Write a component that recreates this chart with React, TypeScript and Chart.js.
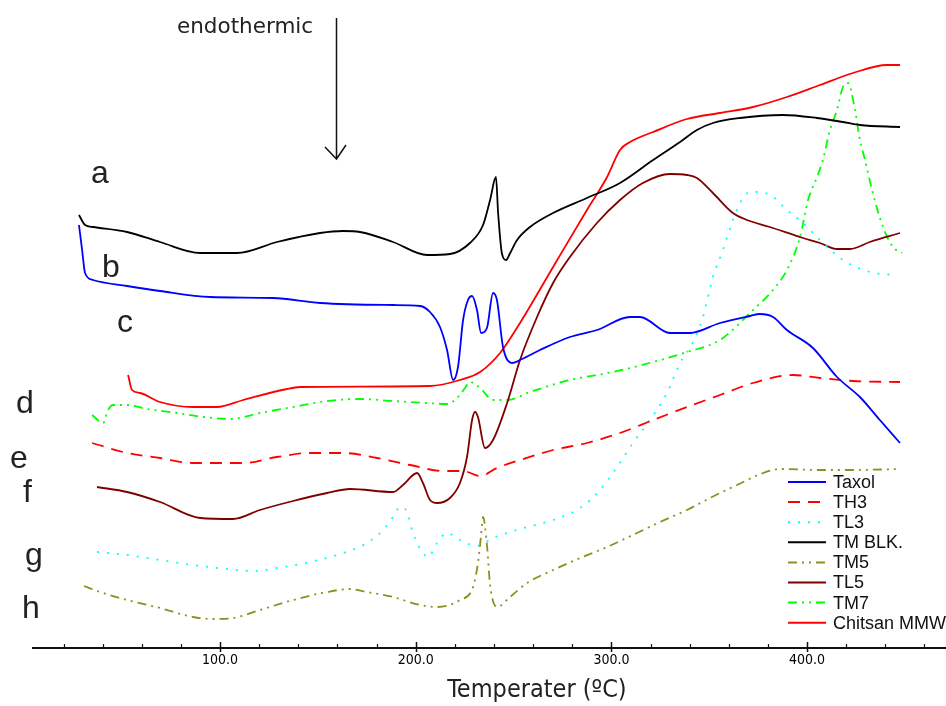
import React, { useEffect, useRef } from "react";
import { Chart, registerables } from "chart.js";

Chart.register(...registerables);

// Temperature (°C) and heat-flow (arbitrary units, curves offset)
const taxolT = [27.9, 29.5, 31.0, 35.1, 52.5, 69.3, 94.9, 127.1, 151.1, 188.4, 202.2, 207.3, 212.4, 216.0, 219.1, 221.6, 224.2, 226.7, 228.8, 231.3, 233.4, 236.4, 239.5, 241.5, 244.6, 249.2, 254.3, 263.5, 278.8, 292.6, 309.5, 314.6, 329.9, 340.2, 355.5, 370.8, 375.9, 382.6, 389.7, 403.0, 415.3, 427.0, 437.2, 447.5];
const taxolV = [42.3, 39.8, 37.5, 36.8, 36.2, 35.7, 35.1, 35.0, 34.5, 34.3, 34.2, 33.6, 32.1, 29.8, 26.8, 28.1, 32.8, 34.8, 35.2, 33.8, 31.5, 32.0, 35.5, 34.8, 30.1, 28.5, 28.9, 29.8, 31.1, 31.8, 33.1, 33.1, 31.5, 31.5, 32.5, 33.2, 33.4, 33.1, 31.8, 30.0, 27.1, 25.1, 22.8, 20.5];

const th3T = [34.6, 52.5, 69.3, 86.2, 111.8, 129.1, 146.0, 162.9, 180.2, 197.1, 214.0, 224.2, 232.9, 241.5, 253.3, 270.2, 287.5, 304.4, 321.3, 338.6, 355.5, 372.4, 392.8, 406.6, 423.5, 447.5];
const th3V = [20.5, 19.5, 19.0, 18.5, 18.5, 19.1, 19.5, 19.5, 19.0, 18.3, 17.7, 17.7, 17.2, 18.0, 18.8, 19.8, 20.5, 21.5, 22.8, 24.1, 25.3, 26.5, 27.3, 27.0, 26.7, 26.6];

const tl3T = [37.1, 52.5, 69.3, 86.2, 103.6, 116.9, 129.1, 146.0, 162.9, 175.1, 183.3, 188.4, 192.0, 195.6, 198.6, 203.7, 206.3, 210.9, 216.0, 222.6, 231.3, 239.5, 253.3, 270.2, 284.0, 294.2, 302.9, 311.0, 319.7, 328.4, 335.1, 341.7, 346.8, 351.9, 357.0, 362.1, 365.7, 370.8, 375.9, 382.6, 389.7, 397.9, 406.6, 418.3, 432.1, 443.9];
const tl3V = [9.6, 9.3, 8.8, 8.3, 7.9, 7.7, 8.0, 8.6, 9.5, 10.5, 11.8, 13.1, 14.1, 13.6, 11.5, 9.5, 9.1, 10.5, 11.5, 10.8, 10.2, 11.0, 11.9, 12.8, 14.0, 15.8, 18.1, 20.5, 22.8, 25.5, 28.5, 30.6, 33.1, 37.1, 39.8, 42.8, 44.5, 45.6, 45.6, 45.1, 43.8, 42.5, 40.8, 38.8, 37.6, 37.3];

const tmBlkT = [27.9, 31.0, 35.1, 52.5, 69.3, 89.8, 108.7, 129.1, 151.1, 162.9, 171.5, 188.4, 205.8, 217.5, 227.7, 234.4, 238.0, 241.0, 242.1, 244.1, 246.2, 248.0, 251.8, 258.4, 270.2, 287.5, 304.4, 321.3, 335.1, 343.7, 351.9, 365.7, 387.7, 405.1, 418.3, 427.0, 447.5];
const tmBlkV = [43.3, 42.3, 42.1, 41.6, 40.6, 39.5, 39.5, 40.6, 41.5, 41.7, 41.6, 40.6, 39.3, 39.4, 40.5, 42.3, 44.8, 47.1, 43.5, 39.4, 38.8, 39.4, 40.8, 42.1, 43.5, 45.0, 46.5, 48.8, 50.6, 51.8, 52.5, 53.0, 53.3, 53.0, 52.6, 52.3, 52.1];

const tm5T = [30.5, 38.7, 52.5, 69.3, 86.2, 96.4, 106.6, 120.4, 137.3, 154.7, 166.4, 175.1, 188.4, 202.2, 210.9, 222.6, 229.3, 231.8, 233.4, 234.4, 236.4, 238.0, 241.5, 248.2, 256.9, 270.2, 284.0, 297.8, 313.1, 324.8, 338.6, 350.4, 364.2, 377.5, 386.1, 406.6, 423.5, 447.5];
const tm5V = [6.2, 5.6, 4.8, 4.0, 3.1, 2.9, 3.0, 3.8, 4.8, 5.6, 5.9, 5.6, 5.1, 4.3, 4.1, 4.8, 6.1, 8.5, 11.3, 13.1, 10.3, 6.3, 4.1, 5.1, 6.5, 7.8, 9.0, 10.1, 11.5, 12.6, 13.8, 15.0, 16.3, 17.5, 17.9, 17.8, 17.8, 17.9];

const tl5T = [37.1, 52.5, 69.3, 89.8, 106.6, 120.4, 137.3, 154.7, 166.4, 188.4, 193.5, 200.7, 203.7, 207.3, 210.9, 217.5, 222.6, 226.2, 228.8, 230.3, 231.8, 235.4, 239.5, 246.7, 253.3, 262.0, 270.2, 278.8, 292.6, 304.4, 316.1, 329.9, 338.6, 343.7, 351.9, 362.1, 369.3, 381.0, 397.9, 406.6, 415.3, 421.9, 432.1, 447.5];
const tl5V = [16.1, 15.6, 14.6, 13.0, 12.9, 13.8, 14.7, 15.5, 15.9, 15.6, 16.3, 17.5, 16.5, 14.8, 14.5, 15.0, 16.5, 19.1, 22.8, 23.6, 23.1, 20.0, 20.8, 24.5, 28.8, 33.1, 36.5, 39.1, 42.5, 44.8, 46.5, 47.4, 47.3, 47.0, 45.5, 43.5, 42.8, 42.1, 41.0, 40.5, 39.9, 39.9, 40.6, 41.5];

const tm7T = [34.6, 40.2, 42.8, 45.3, 52.5, 62.7, 78.0, 91.3, 105.1, 120.4, 137.3, 154.7, 171.5, 188.4, 205.8, 216.0, 221.1, 225.2, 227.7, 232.9, 239.5, 246.7, 258.4, 278.8, 300.8, 321.3, 338.6, 355.5, 372.4, 382.6, 389.7, 396.4, 400.5, 405.1, 408.1, 411.7, 415.3, 418.3, 420.9, 424.5, 427.0, 429.6, 433.2, 438.8, 443.9, 448.5];
const tm7V = [23.3, 22.5, 23.8, 24.3, 24.3, 23.9, 23.5, 23.1, 22.9, 23.5, 24.1, 24.7, 24.9, 24.7, 24.5, 24.4, 25.0, 26.0, 26.6, 26.0, 24.8, 24.8, 25.6, 26.8, 27.6, 28.6, 29.6, 30.8, 33.8, 35.8, 37.8, 41.1, 44.8, 47.1, 48.8, 51.8, 53.8, 56.1, 56.5, 53.8, 50.8, 48.8, 45.8, 42.1, 40.1, 39.5];

const chitsanT = [53.0, 55.0, 59.1, 69.3, 86.2, 98.5, 111.8, 134.2, 140.9, 207.3, 222.6, 232.9, 243.1, 253.3, 270.2, 287.5, 297.8, 304.4, 309.5, 321.3, 338.6, 355.5, 372.4, 389.7, 406.6, 423.5, 440.8, 447.5];
const chitsanV = [27.3, 25.8, 25.5, 24.6, 24.1, 24.1, 24.8, 25.9, 26.1, 26.2, 26.8, 27.6, 29.5, 32.5, 38.1, 43.8, 47.1, 49.8, 50.6, 51.6, 52.9, 53.5, 54.1, 55.1, 56.3, 57.5, 58.3, 58.3];

const seriesNames = ["Taxol", "TH3", "TL3", "TM BLK.", "TM5", "TL5", "TM7", "Chitsan MMW"];
const curveLetters = ["a", "b", "c", "d", "e", "f", "g", "h"];
const majorTicks = [100, 200, 300, 400];
const minorStep = 20;
const xTitle = "Temperater (ºC)";
const noteText = "endothermic";

const pts = (t: number[], v: number[]) => t.map((x, i) => ({ x, y: v[i] }));

const DASHDOTDOT = [9, 5, 2, 5, 2, 5];

const overlayPlugin = {
  id: "overlay",
  afterDraw(chart: any) {
    const ctx = chart.ctx;
    const xs = chart.scales.x;
    const axisY = chart.chartArea.bottom;
    ctx.save();
    // axis tick marks (pointing up, majors crossing the axis)
    ctx.strokeStyle = "#111";
    for (let v = minorStep; v <= xs.max; v += minorStep) {
      const px = Math.round(xs.getPixelForValue(v)) + 0.5;
      const major = majorTicks.includes(v);
      ctx.lineWidth = major ? 1.5 : 1.2;
      ctx.beginPath();
      ctx.moveTo(px, axisY - (major ? 6 : 4));
      ctx.lineTo(px, axisY + (major ? 4 : 0));
      ctx.stroke();
    }

    // curve letters
    ctx.fillStyle = "#222";
    ctx.font = "32px 'Liberation Sans', Arial, sans-serif";
    ctx.textBaseline = "alphabetic";
    ctx.textAlign = "left";
    const letterPos = [
      [91, 183], [102, 277], [117, 332], [16, 413], [10, 468], [23, 502], [25, 565], [22, 618],
    ];
    curveLetters.forEach((l, i) => ctx.fillText(l, letterPos[i][0], letterPos[i][1]));

    // endothermic note + arrow
    ctx.font = "21.5px 'DejaVu Sans', sans-serif";
    ctx.fillStyle = "#222";
    ctx.fillText(noteText, 177, 33);
    ctx.strokeStyle = "#111";
    ctx.lineWidth = 1.5;
    ctx.beginPath();
    ctx.moveTo(336.5, 18);
    ctx.lineTo(336.5, 159);
    ctx.moveTo(325, 147);
    ctx.lineTo(336.5, 159);
    ctx.lineTo(346, 145);
    ctx.stroke();

    // axis title
    ctx.font = "25px 'DejaVu Sans Condensed', 'DejaVu Sans', sans-serif";
    ctx.textAlign = "center";
    ctx.textBaseline = "middle";
    ctx.fillStyle = "#222";
    ctx.fillText(xTitle, 537, 690);

    // legend
    ctx.textAlign = "left";
    ctx.font = "18px 'Liberation Sans', Arial, sans-serif";
    chart.data.datasets.forEach((ds: any, i: number) => {
      const y = 482 + i * 20.1;
      ctx.strokeStyle = ds.borderColor;
      ctx.lineWidth = 2;
      ctx.setLineDash(ds.borderDash || []);
      ctx.beginPath();
      ctx.moveTo(788, y);
      ctx.lineTo(826, y);
      ctx.stroke();
      ctx.setLineDash([]);
      ctx.fillStyle = "#111";
      ctx.fillText(ds.label, 833, y + 1);
    });
    ctx.restore();
  },
};

export default function App() {
  const ref = useRef<HTMLCanvasElement | null>(null);
  useEffect(() => {
    if (!ref.current) return;
    const mk = (i: number, t: number[], v: number[], color: string, dash: number[]) => ({
      label: seriesNames[i],
      data: pts(t, v),
      borderColor: color,
      backgroundColor: color,
      borderWidth: 1.8,
      borderDash: dash,
      pointRadius: 0,
      fill: false,
      cubicInterpolationMode: "monotone" as const,
    });
    const chart = new Chart(ref.current, {
      type: "line",
      data: {
        datasets: [
          mk(0, taxolT, taxolV, "#0000ff", []),
          mk(1, th3T, th3V, "#ff0000", [12, 8]),
          mk(2, tl3T, tl3V, "#00ffff", [2, 8]),
          mk(3, tmBlkT, tmBlkV, "#000000", []),
          mk(4, tm5T, tm5V, "#8f8f1f", DASHDOTDOT),
          mk(5, tl5T, tl5V, "#800000", []),
          mk(6, tm7T, tm7V, "#00ff00", DASHDOTDOT),
          mk(7, chitsanT, chitsanV, "#ff0000", []),
        ],
      },
      options: {
        animation: false,
        responsive: true,
        maintainAspectRatio: false,
        layout: { padding: { left: 33, right: 0, top: 0, bottom: 0 } },
        plugins: { legend: { display: false }, tooltip: { enabled: false }, title: { display: false } },
        scales: {
          x: {
            type: "linear",
            min: 4.4,
            max: 471,
            afterBuildTicks: (scale: any) => {
              scale.ticks = majorTicks.map((v) => ({ value: v }));
            },
            afterFit: (scale: any) => {
              scale.height = 58;
            },
            border: { display: true, color: "#111", width: 2 },
            grid: {
              display: false,
              drawOnChartArea: false,
              drawTicks: false,
            },
            ticks: {
              autoSkip: false,
              maxRotation: 0,
              padding: 4,
              color: "#000",
              font: { family: "'DejaVu Sans Condensed', 'DejaVu Sans', sans-serif", size: 14 },
              callback: (v: any) => Number(v).toFixed(1),
            },
          },
          y: {
            type: "linear",
            display: false,
            min: 0,
            max: 64.8,
          },
        },
      },
      plugins: [overlayPlugin],
    });
    return () => chart.destroy();
  }, []);
  return (
    <div style={{ position: "fixed", left: 0, top: 0, width: 946, height: 706, background: "#fff" }}>
      <canvas ref={ref} />
    </div>
  );
}
